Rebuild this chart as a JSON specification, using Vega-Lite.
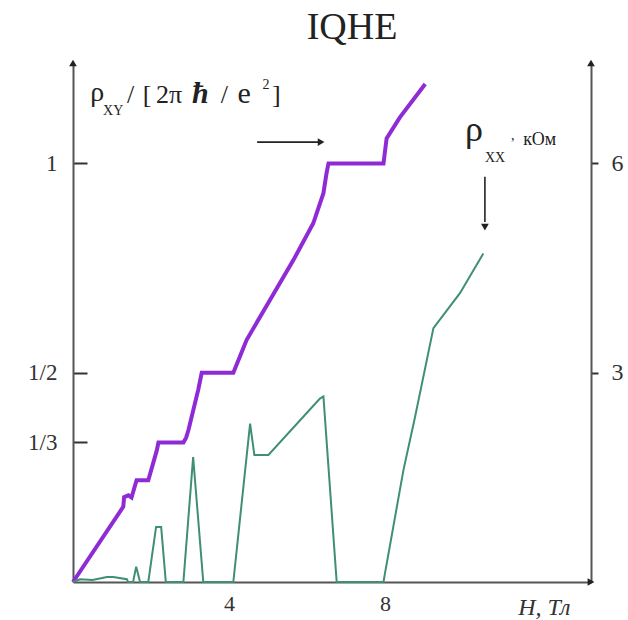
{
  "$schema": "https://vega.github.io/schema/vega-lite/v6.json",
  "width": 518,
  "height": 519,
  "autosize": {"type": "none"},
  "padding": {"left": 73, "top": 63, "right": 37, "bottom": 38},
  "background": "white",
  "config": {"view": {"stroke": null}, "font": "Liberation Serif", "axis": {"grid": false}},
  "title": {"text": "IQHE", "font": "Liberation Serif", "fontSize": 38, "fontWeight": "normal", "color": "#222", "anchor": "middle", "dx": 20, "offset": 13},
  "layer": [
    {
      "data": {"values": [
        {"H": 0, "rxy": 0}, {"H": 1.29, "rxy": 0.18}, {"H": 1.31, "rxy": 0.203}, {"H": 1.42, "rxy": 0.207},
        {"H": 1.5, "rxy": 0.202}, {"H": 1.63, "rxy": 0.243}, {"H": 1.93, "rxy": 0.243}, {"H": 2.15, "rxy": 0.315},
        {"H": 2.19, "rxy": 0.3333}, {"H": 2.83, "rxy": 0.3333}, {"H": 2.9, "rxy": 0.345}, {"H": 2.96, "rxy": 0.363},
        {"H": 3.21, "rxy": 0.459}, {"H": 3.3, "rxy": 0.5}, {"H": 4.11, "rxy": 0.5}, {"H": 4.24, "rxy": 0.53},
        {"H": 4.45, "rxy": 0.578}, {"H": 5.05, "rxy": 0.674}, {"H": 5.65, "rxy": 0.769}, {"H": 6.16, "rxy": 0.857},
        {"H": 6.42, "rxy": 0.929}, {"H": 6.5, "rxy": 0.977}, {"H": 6.55, "rxy": 1.0}, {"H": 7.96, "rxy": 1.0},
        {"H": 8.04, "rxy": 1.06}, {"H": 8.38, "rxy": 1.11}, {"H": 9.03, "rxy": 1.19}
      ]},
      "mark": {"type": "line", "color": "#8f2bd6", "strokeWidth": 4},
      "encoding": {
        "x": {"field": "H", "type": "quantitative", "scale": {"domain": [0, 13.28], "nice": false, "zero": false},
          "axis": {"values": [4, 8], "ticks": false, "domainColor": "#555", "domainWidth": 2, "labelFont": "Liberation Serif", "labelFontSize": 22, "labelColor": "#333", "labelPadding": 11,
            "title": "H,  Тл", "titleFont": "Liberation Serif", "titleFontSize": 24, "titleFontStyle": "italic", "titleFontWeight": "normal", "titleColor": "#333",
            "titleAnchor": "end", "titleAlign": "right", "titleBaseline": "alphabetic", "titleX": 497, "titleY": 32}},
        "y": {"field": "rxy", "type": "quantitative", "scale": {"domain": [0, 1.24], "nice": false},
          "axis": {"values": [0.3333333, 0.5, 1], "labelExpr": "datum.value > 0.9 ? '1' : (datum.value > 0.4 ? '1/2' : '1/3')",
            "tickSize": -14, "tickColor": "#333", "tickWidth": 2, "domainColor": "#555", "domainWidth": 2,
            "labelFont": "Liberation Serif", "labelFontSize": 23, "labelColor": "#333", "labelPadding": 30, "title": null}}
      }
    },
    {
      "data": {"values": [
        {"H": 0, "rxx": 0}, {"H": 0.18, "rxx": 0.04}, {"H": 0.5, "rxx": 0.03}, {"H": 0.87, "rxx": 0.07},
        {"H": 1.03, "rxx": 0.07}, {"H": 1.38, "rxx": 0.04}, {"H": 1.41, "rxx": 0}, {"H": 1.54, "rxx": 0},
        {"H": 1.62, "rxx": 0.22}, {"H": 1.72, "rxx": 0}, {"H": 1.93, "rxx": 0}, {"H": 2.13, "rxx": 0.79},
        {"H": 2.26, "rxx": 0.79}, {"H": 2.38, "rxx": 0}, {"H": 2.83, "rxx": 0}, {"H": 3.08, "rxx": 1.79},
        {"H": 3.34, "rxx": 0}, {"H": 4.11, "rxx": 0}, {"H": 4.54, "rxx": 2.27}, {"H": 4.65, "rxx": 1.82},
        {"H": 5.01, "rxx": 1.82}, {"H": 6.33, "rxx": 2.63}, {"H": 6.42, "rxx": 2.66}, {"H": 6.76, "rxx": 0},
        {"H": 7.96, "rxx": 0}, {"H": 8.0, "rxx": 0.13}, {"H": 8.47, "rxx": 1.6}, {"H": 8.77, "rxx": 2.37},
        {"H": 9.24, "rxx": 3.64}, {"H": 9.92, "rxx": 4.14}, {"H": 10.52, "rxx": 4.71}
      ]},
      "mark": {"type": "line", "color": "#3f8f72", "strokeWidth": 2},
      "encoding": {
        "x": {"field": "H", "type": "quantitative"},
        "y": {"field": "rxx", "type": "quantitative", "scale": {"domain": [0, 7.44], "nice": false},
          "axis": {"orient": "right", "values": [3, 6], "tickSize": 7, "tickColor": "#333", "tickWidth": 2, "domainColor": "#555", "domainWidth": 2,
            "labelFont": "Liberation Serif", "labelFontSize": 24, "labelColor": "#333", "labelPadding": 13, "title": null}}
      }
    },
    {
      "data": {"values": [{"H": 4.72, "H2": 6.3, "y": 1.051}]},
      "mark": {"type": "rule", "color": "#222", "strokeWidth": 1.6},
      "encoding": {
        "x": {"field": "H", "type": "quantitative"},
        "x2": {"field": "H2"},
        "y": {"field": "y", "type": "quantitative", "axis": null, "scale": {"domain": [0, 1.24], "nice": false}}
      }
    },
    {
      "data": {"values": [{"H": 10.56, "y": 0.968, "y2": 0.86}]},
      "mark": {"type": "rule", "color": "#222", "strokeWidth": 1.6},
      "encoding": {
        "x": {"field": "H", "type": "quantitative"},
        "y": {"field": "y", "type": "quantitative", "axis": null, "scale": {"domain": [0, 1.24], "nice": false}},
        "y2": {"field": "y2"}
      }
    },
    {
      "data": {"values": [{"H": 6.36, "y": 1.051}, {"H": 13.28, "y": 0}]},
      "mark": {"type": "point", "shape": "triangle-right", "filled": true, "color": "#222", "size": 60, "opacity": 1},
      "encoding": {
        "x": {"field": "H", "type": "quantitative"},
        "y": {"field": "y", "type": "quantitative", "axis": null, "scale": {"domain": [0, 1.24], "nice": false}}
      }
    },
    {
      "data": {"values": [{"H": 0, "y": 1.24}, {"H": 13.28, "y": 1.24}]},
      "mark": {"type": "point", "shape": "triangle-up", "filled": true, "color": "#222", "size": 60, "opacity": 1},
      "encoding": {
        "x": {"field": "H", "type": "quantitative"},
        "y": {"field": "y", "type": "quantitative", "axis": null, "scale": {"domain": [0, 1.24], "nice": false}}
      }
    },
    {
      "data": {"values": [{"H": 10.56, "y": 0.848}]},
      "mark": {"type": "point", "shape": "triangle-down", "filled": true, "color": "#222", "size": 60, "opacity": 1},
      "encoding": {
        "x": {"field": "H", "type": "quantitative"},
        "y": {"field": "y", "type": "quantitative", "axis": null, "scale": {"domain": [0, 1.24], "nice": false}}
      }
    },
    {
      "data": {"values": [{"H": 0.44, "y": 1.149, "label": "ρ"}]},
      "mark": {"type": "text", "align": "left", "baseline": "alphabetic", "font": "Liberation Serif", "fontSize": 28, "color": "#222"},
      "encoding": {
        "x": {"field": "H", "type": "quantitative"},
        "y": {"field": "y", "type": "quantitative", "axis": null, "scale": {"domain": [0, 1.24], "nice": false}},
        "text": {"field": "label"}
      }
    },
    {
      "data": {"values": [{"H": 10.05, "y": 1.054, "label": "ρ"}]},
      "mark": {"type": "text", "align": "left", "baseline": "alphabetic", "font": "Liberation Serif", "fontSize": 36, "color": "#222"},
      "encoding": {
        "x": {"field": "H", "type": "quantitative"},
        "y": {"field": "y", "type": "quantitative", "axis": null, "scale": {"domain": [0, 1.24], "nice": false}},
        "text": {"field": "label"}
      }
    },
    {
      "data": {"values": [
        {"H": 1.385, "y": 1.145, "label": "/"}, {"H": 1.79, "y": 1.145, "label": "["}, {"H": 2.13, "y": 1.145, "label": "2π"},
        {"H": 3.79, "y": 1.145, "label": "/"}, {"H": 5.1, "y": 1.145, "label": "]"}
      ]},
      "mark": {"type": "text", "align": "left", "baseline": "alphabetic", "font": "Liberation Serif", "fontSize": 26, "color": "#222"},
      "encoding": {
        "x": {"field": "H", "type": "quantitative"},
        "y": {"field": "y", "type": "quantitative", "axis": null, "scale": {"domain": [0, 1.24], "nice": false}},
        "text": {"field": "label"}
      }
    },
    {
      "data": {"values": [{"H": 4.22, "y": 1.145, "label": "e"}]},
      "mark": {"type": "text", "align": "left", "baseline": "alphabetic", "font": "Liberation Serif", "fontSize": 30, "color": "#222"},
      "encoding": {
        "x": {"field": "H", "type": "quantitative"},
        "y": {"field": "y", "type": "quantitative", "axis": null, "scale": {"domain": [0, 1.24], "nice": false}},
        "text": {"field": "label"}
      }
    },
    {
      "data": {"values": [{"H": 3.05, "y": 1.145, "label": "ħ"}]},
      "mark": {"type": "text", "align": "left", "baseline": "alphabetic", "font": "Liberation Serif", "fontSize": 30, "fontStyle": "italic", "fontWeight": "bold", "color": "#222"},
      "encoding": {
        "x": {"field": "H", "type": "quantitative"},
        "y": {"field": "y", "type": "quantitative", "axis": null, "scale": {"domain": [0, 1.24], "nice": false}},
        "text": {"field": "label"}
      }
    },
    {
      "data": {"values": [
        {"H": 0.77, "y": 1.116, "label": "XY"}, {"H": 4.86, "y": 1.178, "label": "2"},
        {"H": 10.56, "y": 1.004, "label": "XX"}, {"H": 11.23, "y": 1.056, "label": ","}
      ]},
      "mark": {"type": "text", "align": "left", "baseline": "alphabetic", "font": "Liberation Serif", "fontSize": 14, "color": "#222"},
      "encoding": {
        "x": {"field": "H", "type": "quantitative"},
        "y": {"field": "y", "type": "quantitative", "axis": null, "scale": {"domain": [0, 1.24], "nice": false}},
        "text": {"field": "label"}
      }
    },
    {
      "data": {"values": [{"H": 11.54, "y": 1.044, "label": "кОм"}]},
      "mark": {"type": "text", "align": "left", "baseline": "alphabetic", "font": "Liberation Serif", "fontSize": 18, "color": "#222"},
      "encoding": {
        "x": {"field": "H", "type": "quantitative"},
        "y": {"field": "y", "type": "quantitative", "axis": null, "scale": {"domain": [0, 1.24], "nice": false}},
        "text": {"field": "label"}
      }
    }
  ],
  "resolve": {"scale": {"y": "independent"}}
}
